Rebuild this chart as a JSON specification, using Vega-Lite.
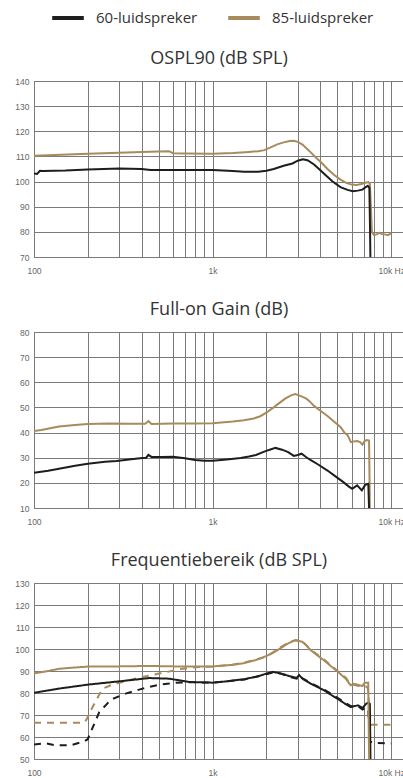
{
  "$schema": "https://vega.github.io/schema/vega-lite/v6.json",
  "padding": 0,
  "spacing": 24,
  "background": "white",
  "config": {
    "view": {"stroke": "#7a7a7a", "strokeWidth": 1},
    "title": {"font": "Open Sans", "fontSize": 18, "fontWeight": "normal", "color": "#333333", "offset": 9, "baseline": "alphabetic", "anchor": "middle"},
    "axis": {"labelFont": "Liberation Sans", "labelFontSize": 8.5, "labelColor": "#666666", "grid": true, "gridColor": "#7a7a7a", "gridOpacity": 1, "gridWidth": 1, "ticks": false, "domain": false, "title": null},
    "axisX": {"labelPadding": 9, "minExtent": 18, "maxExtent": 18, "labelOverlap": false, "labelBound": false, "labelFlush": false},
    "axisY": {"labelPadding": 5, "minExtent": 33, "maxExtent": 33},
    "legend": {"orient": "none", "direction": "horizontal", "legendX": 16, "legendY": -81, "symbolType": "stroke", "symbolStrokeWidth": 4, "symbolSize": 1000, "labelFont": "Open Sans", "labelFontSize": 15, "labelColor": "#333333", "labelOffset": 10, "columnPadding": 22, "title": null}
  },
  "datasets": {
    "d": [
      {"p":1,"s":"85-luidspreker","t":"solid","f":100,"v":110.3},
      {"p":1,"s":"85-luidspreker","t":"solid","f":130,"v":110.6},
      {"p":1,"s":"85-luidspreker","t":"solid","f":200,"v":111.1},
      {"p":1,"s":"85-luidspreker","t":"solid","f":300,"v":111.5},
      {"p":1,"s":"85-luidspreker","t":"solid","f":400,"v":111.8},
      {"p":1,"s":"85-luidspreker","t":"solid","f":500,"v":112.0},
      {"p":1,"s":"85-luidspreker","t":"solid","f":570,"v":112.1},
      {"p":1,"s":"85-luidspreker","t":"solid","f":600,"v":111.3},
      {"p":1,"s":"85-luidspreker","t":"solid","f":700,"v":111.2},
      {"p":1,"s":"85-luidspreker","t":"solid","f":1000,"v":111.1},
      {"p":1,"s":"85-luidspreker","t":"solid","f":1300,"v":111.4},
      {"p":1,"s":"85-luidspreker","t":"solid","f":1600,"v":111.8},
      {"p":1,"s":"85-luidspreker","t":"solid","f":1800,"v":112.1},
      {"p":1,"s":"85-luidspreker","t":"solid","f":1950,"v":112.5},
      {"p":1,"s":"85-luidspreker","t":"solid","f":2100,"v":113.5},
      {"p":1,"s":"85-luidspreker","t":"solid","f":2300,"v":114.8},
      {"p":1,"s":"85-luidspreker","t":"solid","f":2500,"v":115.6},
      {"p":1,"s":"85-luidspreker","t":"solid","f":2700,"v":116.1},
      {"p":1,"s":"85-luidspreker","t":"solid","f":2850,"v":116.2},
      {"p":1,"s":"85-luidspreker","t":"solid","f":3000,"v":115.8},
      {"p":1,"s":"85-luidspreker","t":"solid","f":3200,"v":114.6},
      {"p":1,"s":"85-luidspreker","t":"solid","f":3500,"v":112.0},
      {"p":1,"s":"85-luidspreker","t":"solid","f":3800,"v":109.5},
      {"p":1,"s":"85-luidspreker","t":"solid","f":4100,"v":107.3},
      {"p":1,"s":"85-luidspreker","t":"solid","f":4400,"v":105.0},
      {"p":1,"s":"85-luidspreker","t":"solid","f":4800,"v":102.6},
      {"p":1,"s":"85-luidspreker","t":"solid","f":5200,"v":100.8},
      {"p":1,"s":"85-luidspreker","t":"solid","f":5600,"v":99.5},
      {"p":1,"s":"85-luidspreker","t":"solid","f":6000,"v":98.8},
      {"p":1,"s":"85-luidspreker","t":"solid","f":6400,"v":98.6},
      {"p":1,"s":"85-luidspreker","t":"solid","f":6800,"v":99.0},
      {"p":1,"s":"85-luidspreker","t":"solid","f":7200,"v":99.5},
      {"p":1,"s":"85-luidspreker","t":"solid","f":7450,"v":99.8},
      {"p":1,"s":"85-luidspreker","t":"solid","f":7600,"v":99.2},
      {"p":1,"s":"85-luidspreker","t":"solid","f":7700,"v":90.0},
      {"p":1,"s":"85-luidspreker","t":"solid","f":7800,"v":80.0},
      {"p":1,"s":"85-luidspreker","t":"solid","f":8000,"v":78.8},
      {"p":1,"s":"85-luidspreker","t":"solid","f":8300,"v":79.0},
      {"p":1,"s":"85-luidspreker","t":"solid","f":8600,"v":79.7},
      {"p":1,"s":"85-luidspreker","t":"solid","f":8800,"v":79.2},
      {"p":1,"s":"85-luidspreker","t":"solid","f":9200,"v":79.0},
      {"p":1,"s":"85-luidspreker","t":"solid","f":9600,"v":78.7},
      {"p":1,"s":"85-luidspreker","t":"solid","f":10000,"v":79.5},
      {"p":1,"s":"60-luidspreker","t":"solid","f":100,"v":103.2},
      {"p":1,"s":"60-luidspreker","t":"solid","f":104,"v":103.0},
      {"p":1,"s":"60-luidspreker","t":"solid","f":108,"v":104.3},
      {"p":1,"s":"60-luidspreker","t":"solid","f":112,"v":104.2},
      {"p":1,"s":"60-luidspreker","t":"solid","f":150,"v":104.4},
      {"p":1,"s":"60-luidspreker","t":"solid","f":200,"v":104.8},
      {"p":1,"s":"60-luidspreker","t":"solid","f":300,"v":105.2},
      {"p":1,"s":"60-luidspreker","t":"solid","f":400,"v":105.0},
      {"p":1,"s":"60-luidspreker","t":"solid","f":450,"v":104.6},
      {"p":1,"s":"60-luidspreker","t":"solid","f":700,"v":104.6},
      {"p":1,"s":"60-luidspreker","t":"solid","f":1000,"v":104.6},
      {"p":1,"s":"60-luidspreker","t":"solid","f":1300,"v":104.2},
      {"p":1,"s":"60-luidspreker","t":"solid","f":1500,"v":103.9},
      {"p":1,"s":"60-luidspreker","t":"solid","f":1800,"v":103.9},
      {"p":1,"s":"60-luidspreker","t":"solid","f":2000,"v":104.3},
      {"p":1,"s":"60-luidspreker","t":"solid","f":2200,"v":105.0},
      {"p":1,"s":"60-luidspreker","t":"solid","f":2500,"v":106.3},
      {"p":1,"s":"60-luidspreker","t":"solid","f":2800,"v":107.2},
      {"p":1,"s":"60-luidspreker","t":"solid","f":3000,"v":108.3},
      {"p":1,"s":"60-luidspreker","t":"solid","f":3200,"v":108.9},
      {"p":1,"s":"60-luidspreker","t":"solid","f":3400,"v":108.5},
      {"p":1,"s":"60-luidspreker","t":"solid","f":3700,"v":106.8},
      {"p":1,"s":"60-luidspreker","t":"solid","f":4000,"v":104.6},
      {"p":1,"s":"60-luidspreker","t":"solid","f":4300,"v":102.5},
      {"p":1,"s":"60-luidspreker","t":"solid","f":4700,"v":100.0},
      {"p":1,"s":"60-luidspreker","t":"solid","f":5200,"v":97.8},
      {"p":1,"s":"60-luidspreker","t":"solid","f":5700,"v":96.7},
      {"p":1,"s":"60-luidspreker","t":"solid","f":6100,"v":96.2},
      {"p":1,"s":"60-luidspreker","t":"solid","f":6500,"v":96.4},
      {"p":1,"s":"60-luidspreker","t":"solid","f":6900,"v":96.8},
      {"p":1,"s":"60-luidspreker","t":"solid","f":7200,"v":97.8},
      {"p":1,"s":"60-luidspreker","t":"solid","f":7400,"v":98.3},
      {"p":1,"s":"60-luidspreker","t":"solid","f":7550,"v":97.5},
      {"p":1,"s":"60-luidspreker","t":"solid","f":7620,"v":80.0},
      {"p":1,"s":"60-luidspreker","t":"solid","f":7680,"v":60.0},

      {"p":2,"s":"85-luidspreker","t":"solid","f":100,"v":40.6},
      {"p":2,"s":"85-luidspreker","t":"solid","f":110,"v":41.0},
      {"p":2,"s":"85-luidspreker","t":"solid","f":138,"v":42.4},
      {"p":2,"s":"85-luidspreker","t":"solid","f":170,"v":43.0},
      {"p":2,"s":"85-luidspreker","t":"solid","f":200,"v":43.4},
      {"p":2,"s":"85-luidspreker","t":"solid","f":263,"v":43.6},
      {"p":2,"s":"85-luidspreker","t":"solid","f":350,"v":43.5},
      {"p":2,"s":"85-luidspreker","t":"solid","f":420,"v":43.5},
      {"p":2,"s":"85-luidspreker","t":"solid","f":437,"v":44.6},
      {"p":2,"s":"85-luidspreker","t":"solid","f":455,"v":43.4},
      {"p":2,"s":"85-luidspreker","t":"solid","f":600,"v":43.6},
      {"p":2,"s":"85-luidspreker","t":"solid","f":800,"v":43.6},
      {"p":2,"s":"85-luidspreker","t":"solid","f":1000,"v":43.7},
      {"p":2,"s":"85-luidspreker","t":"solid","f":1300,"v":44.4},
      {"p":2,"s":"85-luidspreker","t":"solid","f":1500,"v":44.9},
      {"p":2,"s":"85-luidspreker","t":"solid","f":1700,"v":45.6},
      {"p":2,"s":"85-luidspreker","t":"solid","f":1850,"v":46.5},
      {"p":2,"s":"85-luidspreker","t":"solid","f":2000,"v":47.9},
      {"p":2,"s":"85-luidspreker","t":"solid","f":2150,"v":49.5},
      {"p":2,"s":"85-luidspreker","t":"solid","f":2300,"v":51.1},
      {"p":2,"s":"85-luidspreker","t":"solid","f":2550,"v":53.5},
      {"p":2,"s":"85-luidspreker","t":"solid","f":2750,"v":54.8},
      {"p":2,"s":"85-luidspreker","t":"solid","f":2900,"v":55.3},
      {"p":2,"s":"85-luidspreker","t":"solid","f":3100,"v":54.6},
      {"p":2,"s":"85-luidspreker","t":"solid","f":3350,"v":53.5},
      {"p":2,"s":"85-luidspreker","t":"solid","f":3500,"v":52.4},
      {"p":2,"s":"85-luidspreker","t":"solid","f":3700,"v":50.6},
      {"p":2,"s":"85-luidspreker","t":"solid","f":4000,"v":48.8},
      {"p":2,"s":"85-luidspreker","t":"solid","f":4400,"v":46.6},
      {"p":2,"s":"85-luidspreker","t":"solid","f":4800,"v":44.3},
      {"p":2,"s":"85-luidspreker","t":"solid","f":5200,"v":42.2},
      {"p":2,"s":"85-luidspreker","t":"solid","f":5500,"v":39.8},
      {"p":2,"s":"85-luidspreker","t":"solid","f":5700,"v":39.0},
      {"p":2,"s":"85-luidspreker","t":"solid","f":5950,"v":36.2},
      {"p":2,"s":"85-luidspreker","t":"solid","f":6200,"v":36.5},
      {"p":2,"s":"85-luidspreker","t":"solid","f":6450,"v":36.6},
      {"p":2,"s":"85-luidspreker","t":"solid","f":6700,"v":36.2},
      {"p":2,"s":"85-luidspreker","t":"solid","f":6900,"v":35.2},
      {"p":2,"s":"85-luidspreker","t":"solid","f":7100,"v":36.6},
      {"p":2,"s":"85-luidspreker","t":"solid","f":7300,"v":37.0},
      {"p":2,"s":"85-luidspreker","t":"solid","f":7520,"v":36.8},
      {"p":2,"s":"85-luidspreker","t":"solid","f":7570,"v":20.0},
      {"p":2,"s":"85-luidspreker","t":"solid","f":7610,"v":0.0},
      {"p":2,"s":"60-luidspreker","t":"solid","f":100,"v":24.0},
      {"p":2,"s":"60-luidspreker","t":"solid","f":120,"v":24.8},
      {"p":2,"s":"60-luidspreker","t":"solid","f":138,"v":25.6},
      {"p":2,"s":"60-luidspreker","t":"solid","f":170,"v":26.8},
      {"p":2,"s":"60-luidspreker","t":"solid","f":200,"v":27.6},
      {"p":2,"s":"60-luidspreker","t":"solid","f":250,"v":28.4},
      {"p":2,"s":"60-luidspreker","t":"solid","f":290,"v":28.7},
      {"p":2,"s":"60-luidspreker","t":"solid","f":350,"v":29.4},
      {"p":2,"s":"60-luidspreker","t":"solid","f":404,"v":29.9},
      {"p":2,"s":"60-luidspreker","t":"solid","f":425,"v":30.0},
      {"p":2,"s":"60-luidspreker","t":"solid","f":437,"v":31.1},
      {"p":2,"s":"60-luidspreker","t":"solid","f":455,"v":30.3},
      {"p":2,"s":"60-luidspreker","t":"solid","f":520,"v":30.3},
      {"p":2,"s":"60-luidspreker","t":"solid","f":600,"v":30.4},
      {"p":2,"s":"60-luidspreker","t":"solid","f":700,"v":29.8},
      {"p":2,"s":"60-luidspreker","t":"solid","f":800,"v":29.1},
      {"p":2,"s":"60-luidspreker","t":"solid","f":900,"v":28.8},
      {"p":2,"s":"60-luidspreker","t":"solid","f":1000,"v":28.8},
      {"p":2,"s":"60-luidspreker","t":"solid","f":1200,"v":29.3},
      {"p":2,"s":"60-luidspreker","t":"solid","f":1435,"v":29.9},
      {"p":2,"s":"60-luidspreker","t":"solid","f":1600,"v":30.5},
      {"p":2,"s":"60-luidspreker","t":"solid","f":1750,"v":31.1},
      {"p":2,"s":"60-luidspreker","t":"solid","f":1900,"v":32.1},
      {"p":2,"s":"60-luidspreker","t":"solid","f":2050,"v":33.0},
      {"p":2,"s":"60-luidspreker","t":"solid","f":2250,"v":33.9},
      {"p":2,"s":"60-luidspreker","t":"solid","f":2450,"v":33.2},
      {"p":2,"s":"60-luidspreker","t":"solid","f":2650,"v":32.2},
      {"p":2,"s":"60-luidspreker","t":"solid","f":2850,"v":30.7},
      {"p":2,"s":"60-luidspreker","t":"solid","f":3000,"v":31.1},
      {"p":2,"s":"60-luidspreker","t":"solid","f":3150,"v":31.6},
      {"p":2,"s":"60-luidspreker","t":"solid","f":3350,"v":30.2},
      {"p":2,"s":"60-luidspreker","t":"solid","f":3550,"v":29.0},
      {"p":2,"s":"60-luidspreker","t":"solid","f":3900,"v":27.3},
      {"p":2,"s":"60-luidspreker","t":"solid","f":4400,"v":24.9},
      {"p":2,"s":"60-luidspreker","t":"solid","f":4900,"v":22.5},
      {"p":2,"s":"60-luidspreker","t":"solid","f":5400,"v":20.3},
      {"p":2,"s":"60-luidspreker","t":"solid","f":5800,"v":18.5},
      {"p":2,"s":"60-luidspreker","t":"solid","f":6050,"v":17.6},
      {"p":2,"s":"60-luidspreker","t":"solid","f":6450,"v":19.0},
      {"p":2,"s":"60-luidspreker","t":"solid","f":6850,"v":17.0},
      {"p":2,"s":"60-luidspreker","t":"solid","f":7150,"v":19.2},
      {"p":2,"s":"60-luidspreker","t":"solid","f":7450,"v":19.6},
      {"p":2,"s":"60-luidspreker","t":"solid","f":7520,"v":10.0},
      {"p":2,"s":"60-luidspreker","t":"solid","f":7560,"v":0.0},

      {"p":3,"s":"60-luidspreker","t":"dashed","f":100,"v":56.6},
      {"p":3,"s":"60-luidspreker","t":"dashed","f":115,"v":57.2},
      {"p":3,"s":"60-luidspreker","t":"dashed","f":132,"v":56.2},
      {"p":3,"s":"60-luidspreker","t":"dashed","f":160,"v":56.2},
      {"p":3,"s":"60-luidspreker","t":"dashed","f":191,"v":58.0},
      {"p":3,"s":"60-luidspreker","t":"dashed","f":200,"v":59.0},
      {"p":3,"s":"60-luidspreker","t":"dashed","f":208,"v":62.3},
      {"p":3,"s":"60-luidspreker","t":"dashed","f":232,"v":71.3},
      {"p":3,"s":"60-luidspreker","t":"dashed","f":270,"v":77.0},
      {"p":3,"s":"60-luidspreker","t":"dashed","f":326,"v":79.7},
      {"p":3,"s":"60-luidspreker","t":"dashed","f":405,"v":82.0},
      {"p":3,"s":"60-luidspreker","t":"dashed","f":502,"v":83.8},
      {"p":3,"s":"60-luidspreker","t":"dashed","f":624,"v":84.7},
      {"p":3,"s":"60-luidspreker","t":"dashed","f":800,"v":84.9},
      {"p":3,"s":"60-luidspreker","t":"dashed","f":1000,"v":84.7},
      {"p":3,"s":"60-luidspreker","t":"dashed","f":1507,"v":86.1},
      {"p":3,"s":"60-luidspreker","t":"dashed","f":2000,"v":88.5},
      {"p":3,"s":"60-luidspreker","t":"dashed","f":2167,"v":89.3},
      {"p":3,"s":"60-luidspreker","t":"dashed","f":2400,"v":88.9},
      {"p":3,"s":"60-luidspreker","t":"dashed","f":2683,"v":87.4},
      {"p":3,"s":"60-luidspreker","t":"dashed","f":2957,"v":86.5},
      {"p":3,"s":"60-luidspreker","t":"dashed","f":3052,"v":87.9},
      {"p":3,"s":"60-luidspreker","t":"dashed","f":3189,"v":86.7},
      {"p":3,"s":"60-luidspreker","t":"dashed","f":3550,"v":84.5},
      {"p":3,"s":"60-luidspreker","t":"dashed","f":4213,"v":81.6},
      {"p":3,"s":"60-luidspreker","t":"dashed","f":5008,"v":77.8},
      {"p":3,"s":"60-luidspreker","t":"dashed","f":5943,"v":74.0},
      {"p":3,"s":"60-luidspreker","t":"dashed","f":6504,"v":74.0},
      {"p":3,"s":"60-luidspreker","t":"dashed","f":6917,"v":72.5},
      {"p":3,"s":"60-luidspreker","t":"dashed","f":7240,"v":73.5},
      {"p":3,"s":"60-luidspreker","t":"dashed","f":7450,"v":72.0},
      {"p":3,"s":"60-luidspreker","t":"dashed","f":7600,"v":58.0},
      {"p":3,"s":"60-luidspreker","t":"dashed","f":8000,"v":57.3},
      {"p":3,"s":"60-luidspreker","t":"dashed","f":10000,"v":57.0},
      {"p":3,"s":"85-luidspreker","t":"dashed","f":100,"v":66.5},
      {"p":3,"s":"85-luidspreker","t":"dashed","f":191,"v":66.5},
      {"p":3,"s":"85-luidspreker","t":"dashed","f":197,"v":68.0},
      {"p":3,"s":"85-luidspreker","t":"dashed","f":208,"v":72.1},
      {"p":3,"s":"85-luidspreker","t":"dashed","f":242,"v":82.0},
      {"p":3,"s":"85-luidspreker","t":"dashed","f":275,"v":83.8},
      {"p":3,"s":"85-luidspreker","t":"dashed","f":330,"v":85.5},
      {"p":3,"s":"85-luidspreker","t":"dashed","f":405,"v":87.3},
      {"p":3,"s":"85-luidspreker","t":"dashed","f":550,"v":89.5},
      {"p":3,"s":"85-luidspreker","t":"dashed","f":681,"v":91.0},
      {"p":3,"s":"85-luidspreker","t":"dashed","f":800,"v":91.7},
      {"p":3,"s":"85-luidspreker","t":"dashed","f":1000,"v":92.0},
      {"p":3,"s":"85-luidspreker","t":"dashed","f":1300,"v":92.9},
      {"p":3,"s":"85-luidspreker","t":"dashed","f":1507,"v":93.9},
      {"p":3,"s":"85-luidspreker","t":"dashed","f":1750,"v":95.2},
      {"p":3,"s":"85-luidspreker","t":"dashed","f":2000,"v":96.5},
      {"p":3,"s":"85-luidspreker","t":"dashed","f":2300,"v":99.8},
      {"p":3,"s":"85-luidspreker","t":"dashed","f":2630,"v":102.7},
      {"p":3,"s":"85-luidspreker","t":"dashed","f":2920,"v":104.1},
      {"p":3,"s":"85-luidspreker","t":"dashed","f":3190,"v":103.4},
      {"p":3,"s":"85-luidspreker","t":"dashed","f":3550,"v":99.7},
      {"p":3,"s":"85-luidspreker","t":"dashed","f":4213,"v":95.2},
      {"p":3,"s":"85-luidspreker","t":"dashed","f":5008,"v":90.0},
      {"p":3,"s":"85-luidspreker","t":"dashed","f":5573,"v":86.9},
      {"p":3,"s":"85-luidspreker","t":"dashed","f":5943,"v":84.0},
      {"p":3,"s":"85-luidspreker","t":"dashed","f":6504,"v":83.3},
      {"p":3,"s":"85-luidspreker","t":"dashed","f":6917,"v":82.7},
      {"p":3,"s":"85-luidspreker","t":"dashed","f":7200,"v":83.0},
      {"p":3,"s":"85-luidspreker","t":"dashed","f":7400,"v":82.3},
      {"p":3,"s":"85-luidspreker","t":"dashed","f":7600,"v":70.0},
      {"p":3,"s":"85-luidspreker","t":"dashed","f":7750,"v":65.6},
      {"p":3,"s":"85-luidspreker","t":"dashed","f":10000,"v":65.6},
      {"p":3,"s":"60-luidspreker","t":"solid","f":100,"v":80.1},
      {"p":3,"s":"60-luidspreker","t":"solid","f":138,"v":82.0},
      {"p":3,"s":"60-luidspreker","t":"solid","f":200,"v":83.8},
      {"p":3,"s":"60-luidspreker","t":"solid","f":300,"v":85.3},
      {"p":3,"s":"60-luidspreker","t":"solid","f":443,"v":86.8},
      {"p":3,"s":"60-luidspreker","t":"solid","f":573,"v":86.5},
      {"p":3,"s":"60-luidspreker","t":"solid","f":741,"v":85.0},
      {"p":3,"s":"60-luidspreker","t":"solid","f":1000,"v":84.7},
      {"p":3,"s":"60-luidspreker","t":"solid","f":1200,"v":85.3},
      {"p":3,"s":"60-luidspreker","t":"solid","f":1507,"v":86.3},
      {"p":3,"s":"60-luidspreker","t":"solid","f":1800,"v":87.6},
      {"p":3,"s":"60-luidspreker","t":"solid","f":2000,"v":88.8},
      {"p":3,"s":"60-luidspreker","t":"solid","f":2167,"v":89.6},
      {"p":3,"s":"60-luidspreker","t":"solid","f":2311,"v":89.2},
      {"p":3,"s":"60-luidspreker","t":"solid","f":2500,"v":88.5},
      {"p":3,"s":"60-luidspreker","t":"solid","f":2683,"v":87.7},
      {"p":3,"s":"60-luidspreker","t":"solid","f":2957,"v":86.8},
      {"p":3,"s":"60-luidspreker","t":"solid","f":3052,"v":88.2},
      {"p":3,"s":"60-luidspreker","t":"solid","f":3189,"v":86.5},
      {"p":3,"s":"60-luidspreker","t":"solid","f":3550,"v":84.2},
      {"p":3,"s":"60-luidspreker","t":"solid","f":3850,"v":82.8},
      {"p":3,"s":"60-luidspreker","t":"solid","f":4213,"v":81.2},
      {"p":3,"s":"60-luidspreker","t":"solid","f":4600,"v":79.2},
      {"p":3,"s":"60-luidspreker","t":"solid","f":5008,"v":77.4},
      {"p":3,"s":"60-luidspreker","t":"solid","f":5500,"v":75.2},
      {"p":3,"s":"60-luidspreker","t":"solid","f":5943,"v":73.6},
      {"p":3,"s":"60-luidspreker","t":"solid","f":6504,"v":74.4},
      {"p":3,"s":"60-luidspreker","t":"solid","f":6917,"v":73.2},
      {"p":3,"s":"60-luidspreker","t":"solid","f":7240,"v":75.1},
      {"p":3,"s":"60-luidspreker","t":"solid","f":7450,"v":75.6},
      {"p":3,"s":"60-luidspreker","t":"solid","f":7600,"v":75.0},
      {"p":3,"s":"60-luidspreker","t":"solid","f":7680,"v":40.0},
      {"p":3,"s":"85-luidspreker","t":"solid","f":100,"v":88.9},
      {"p":3,"s":"85-luidspreker","t":"solid","f":120,"v":90.0},
      {"p":3,"s":"85-luidspreker","t":"solid","f":138,"v":91.0},
      {"p":3,"s":"85-luidspreker","t":"solid","f":170,"v":91.6},
      {"p":3,"s":"85-luidspreker","t":"solid","f":200,"v":92.0},
      {"p":3,"s":"85-luidspreker","t":"solid","f":300,"v":92.1},
      {"p":3,"s":"85-luidspreker","t":"solid","f":443,"v":92.3},
      {"p":3,"s":"85-luidspreker","t":"solid","f":600,"v":92.1},
      {"p":3,"s":"85-luidspreker","t":"solid","f":1000,"v":92.1},
      {"p":3,"s":"85-luidspreker","t":"solid","f":1300,"v":92.8},
      {"p":3,"s":"85-luidspreker","t":"solid","f":1507,"v":93.6},
      {"p":3,"s":"85-luidspreker","t":"solid","f":1750,"v":95.0},
      {"p":3,"s":"85-luidspreker","t":"solid","f":2000,"v":96.8},
      {"p":3,"s":"85-luidspreker","t":"solid","f":2150,"v":98.0},
      {"p":3,"s":"85-luidspreker","t":"solid","f":2300,"v":99.4},
      {"p":3,"s":"85-luidspreker","t":"solid","f":2450,"v":100.8},
      {"p":3,"s":"85-luidspreker","t":"solid","f":2630,"v":102.4},
      {"p":3,"s":"85-luidspreker","t":"solid","f":2800,"v":103.5},
      {"p":3,"s":"85-luidspreker","t":"solid","f":2920,"v":103.9},
      {"p":3,"s":"85-luidspreker","t":"solid","f":3050,"v":103.6},
      {"p":3,"s":"85-luidspreker","t":"solid","f":3190,"v":103.2},
      {"p":3,"s":"85-luidspreker","t":"solid","f":3350,"v":101.6},
      {"p":3,"s":"85-luidspreker","t":"solid","f":3550,"v":99.4},
      {"p":3,"s":"85-luidspreker","t":"solid","f":3850,"v":97.2},
      {"p":3,"s":"85-luidspreker","t":"solid","f":4213,"v":94.8},
      {"p":3,"s":"85-luidspreker","t":"solid","f":4600,"v":92.2},
      {"p":3,"s":"85-luidspreker","t":"solid","f":5008,"v":89.8},
      {"p":3,"s":"85-luidspreker","t":"solid","f":5300,"v":88.0},
      {"p":3,"s":"85-luidspreker","t":"solid","f":5573,"v":86.5},
      {"p":3,"s":"85-luidspreker","t":"solid","f":5800,"v":84.5},
      {"p":3,"s":"85-luidspreker","t":"solid","f":5943,"v":83.5},
      {"p":3,"s":"85-luidspreker","t":"solid","f":6200,"v":84.2},
      {"p":3,"s":"85-luidspreker","t":"solid","f":6504,"v":83.8},
      {"p":3,"s":"85-luidspreker","t":"solid","f":6700,"v":83.4},
      {"p":3,"s":"85-luidspreker","t":"solid","f":6917,"v":83.2},
      {"p":3,"s":"85-luidspreker","t":"solid","f":7100,"v":84.6},
      {"p":3,"s":"85-luidspreker","t":"solid","f":7440,"v":84.7},
      {"p":3,"s":"85-luidspreker","t":"solid","f":7500,"v":60.0},
      {"p":3,"s":"85-luidspreker","t":"solid","f":7550,"v":40.0}
    ]
  },
  "resolve": {"scale": {"color": "shared"}},
  "vconcat": [
    {
      "title": "OSPL90 (dB SPL)",
      "width": 370, "height": 176,
      "data": {"name": "d"},
      "transform": [{"filter": "datum.p == 1"}],
      "mark": {"type": "line", "clip": true, "strokeWidth": 2, "interpolate": "linear"},
      "encoding": {
        "x": {"field": "f", "type": "quantitative", "scale": {"type": "log", "domain": [100, 11800], "nice": false},
              "axis": {"values": [100,200,300,400,500,600,700,800,900,1000,2000,3000,4000,5000,6000,7000,8000,9000,10000],
                       "labelExpr": "datum.value == 100 ? '100' : datum.value == 1000 ? '1k' : datum.value == 10000 ? '10k Hz' : ''"}},
        "y": {"field": "v", "type": "quantitative", "scale": {"domain": [70, 140], "nice": false, "zero": false},
              "axis": {"values": [70,80,90,100,110,120,130,140]}},
        "color": {"field": "s", "type": "nominal", "scale": {"domain": ["60-luidspreker", "85-luidspreker"], "range": ["#1d1d1b", "#a88b5c"]}, "legend": {}},
        "detail": {"field": "t", "type": "nominal"}
      }
    },
    {
      "title": "Full-on Gain (dB)",
      "width": 370, "height": 176,
      "data": {"name": "d"},
      "transform": [{"filter": "datum.p == 2"}],
      "mark": {"type": "line", "clip": true, "strokeWidth": 2, "interpolate": "linear"},
      "encoding": {
        "x": {"field": "f", "type": "quantitative", "scale": {"type": "log", "domain": [100, 11800], "nice": false},
              "axis": {"values": [100,200,300,400,500,600,700,800,900,1000,2000,3000,4000,5000,6000,7000,8000,9000,10000],
                       "labelExpr": "datum.value == 100 ? '100' : datum.value == 1000 ? '1k' : datum.value == 10000 ? '10k Hz' : ''"}},
        "y": {"field": "v", "type": "quantitative", "scale": {"domain": [10, 80], "nice": false, "zero": false},
              "axis": {"values": [10,20,30,40,50,60,70,80]}},
        "color": {"field": "s", "type": "nominal", "scale": {"domain": ["60-luidspreker", "85-luidspreker"], "range": ["#1d1d1b", "#a88b5c"]}, "legend": {}},
        "detail": {"field": "t", "type": "nominal"}
      }
    },
    {
      "title": "Frequentiebereik (dB SPL)",
      "width": 370, "height": 176,
      "data": {"name": "d"},
      "transform": [{"filter": "datum.p == 3"}],
      "mark": {"type": "line", "clip": true, "strokeWidth": 2, "interpolate": "linear"},
      "encoding": {
        "x": {"field": "f", "type": "quantitative", "scale": {"type": "log", "domain": [100, 11800], "nice": false},
              "axis": {"values": [100,200,300,400,500,600,700,800,900,1000,2000,3000,4000,5000,6000,7000,8000,9000,10000],
                       "labelExpr": "datum.value == 100 ? '100' : datum.value == 1000 ? '1k' : datum.value == 10000 ? '10k Hz' : ''"}},
        "y": {"field": "v", "type": "quantitative", "scale": {"domain": [50, 130], "nice": false, "zero": false},
              "axis": {"values": [50,60,70,80,90,100,110,120,130]}},
        "color": {"field": "s", "type": "nominal", "scale": {"domain": ["60-luidspreker", "85-luidspreker"], "range": ["#1d1d1b", "#a88b5c"]}, "legend": {}},
        "strokeDash": {"field": "t", "type": "nominal", "scale": {"domain": ["solid", "dashed"], "range": [[1, 0], [7, 6]]}, "legend": null}
      }
    }
  ]
}
